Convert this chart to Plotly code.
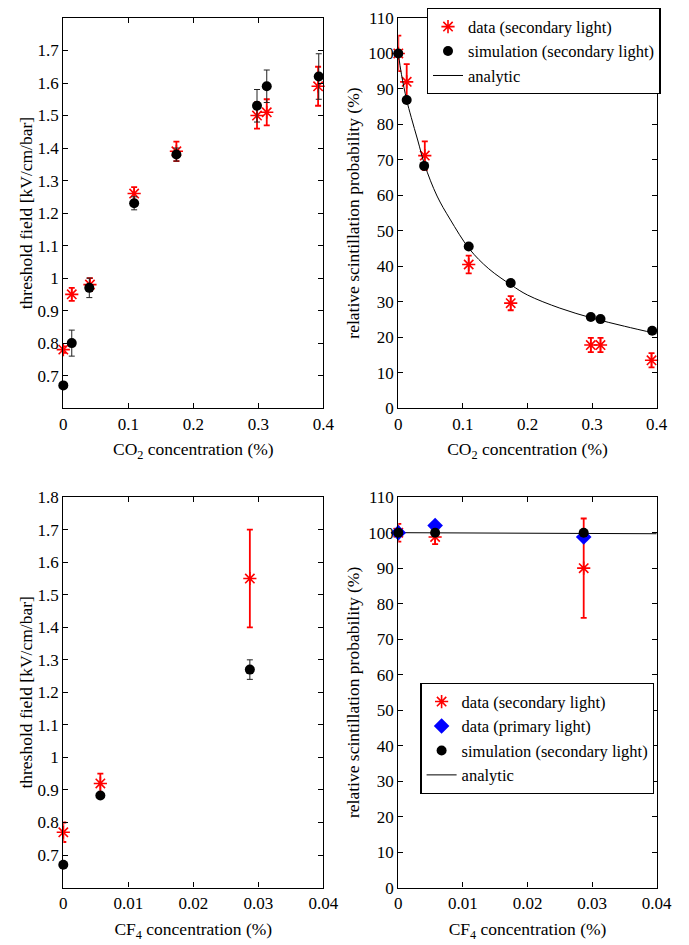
import plotly.graph_objects as go

# ---------------- data ----------------
# CO2 panels
co2_data_x = [0.0, 0.013, 0.041, 0.109, 0.174, 0.298, 0.313, 0.392]
co2_data_field = [0.78, 0.95, 0.98, 1.26, 1.39, 1.50, 1.51, 1.59]
co2_data_field_err = [0.01, 0.02, 0.02, 0.02, 0.03, 0.04, 0.04, 0.06]
co2_sim_x = [0.0, 0.013, 0.040, 0.109, 0.174, 0.298, 0.313, 0.393]
co2_sim_field = [0.67, 0.80, 0.97, 1.23, 1.38, 1.53, 1.59, 1.62]
co2_sim_field_err = [0.0, 0.04, 0.03, 0.02, 0.02, 0.05, 0.05, 0.07]
co2_data_prob = [100, 92, 71.2, 40.5, 29.6, 17.8, 17.8, 13.5]
co2_data_prob_err = [5, 5, 4, 2.5, 2, 2, 2, 2]
co2_sim_prob = [100, 86.9, 68.3, 45.6, 35.3, 25.7, 25.1, 21.8]
co2_analytic_x = [0.0, 0.005, 0.0128, 0.02, 0.03, 0.041, 0.06, 0.08, 0.11,
                  0.14, 0.175, 0.2, 0.25, 0.3, 0.35, 0.4]
co2_analytic_prob = [100, 94, 87, 82, 75.6, 68.5, 59.8, 53.3, 44.9,
                     39.3, 34.7, 31.9, 28.2, 25.4, 23.1, 21.0]

# CF4 panels
cf4_data_x = [0.0, 0.0057, 0.0287]
cf4_data_field = [0.77, 0.92, 1.55]
cf4_data_field_err = [0.03, 0.03, 0.15]
cf4_sim_x = [0.0, 0.0057, 0.0287]
cf4_sim_field = [0.67, 0.883, 1.27]
cf4_sim_field_err = [0.0, 0.0, 0.03]
cf4_data_prob = [100, 98.8, 90]
cf4_data_prob_err = [2.5, 2, 14]
cf4_primary_prob = [100, 102, 98.8]
cf4_sim_prob = [100, 100, 100]
cf4_analytic_x = [0.0, 0.01, 0.02, 0.03, 0.04]
cf4_analytic_prob = [100, 99.9, 99.85, 99.75, 99.7]

# tick labels
co2_xticks = [0, 0.1, 0.2, 0.3, 0.4]
co2_xticktext = ["0", "0.1", "0.2", "0.3", "0.4"]
cf4_xticks = [0, 0.01, 0.02, 0.03, 0.04]
cf4_xticktext = ["0", "0.01", "0.02", "0.03", "0.04"]
field_ticks_top = [0.7, 0.8, 0.9, 1.0, 1.1, 1.2, 1.3, 1.4, 1.5, 1.6, 1.7]
field_ticktext_top = ["0.7", "0.8", "0.9", "1", "1.1", "1.2", "1.3", "1.4", "1.5", "1.6", "1.7"]
field_ticks_bot = [0.7, 0.8, 0.9, 1.0, 1.1, 1.2, 1.3, 1.4, 1.5, 1.6, 1.7, 1.8]
field_ticktext_bot = ["0.7", "0.8", "0.9", "1", "1.1", "1.2", "1.3", "1.4", "1.5", "1.6", "1.7", "1.8"]
prob_ticks = [0, 10, 20, 30, 40, 50, 60, 70, 80, 90, 100, 110]
prob_ticktext = [str(v) for v in prob_ticks]

# ---------------- styling ----------------
FONT = "Liberation Serif, Times New Roman, serif"
RED = "#ff0000"
BLUE = "#0000ff"
BLACK = "#000000"

star = dict(symbol="asterisk-open", size=11, color=RED, line=dict(color=RED, width=1.6))
circle = dict(symbol="circle", size=10, color=BLACK, line=dict(color=BLACK, width=0))
diamond = dict(symbol="diamond", size=12, color=BLUE, line=dict(color=BLUE, width=0))

def red_err(arr):
    return dict(type="data", array=arr, color=RED, thickness=1.8, width=3)

def blk_err(arr):
    return dict(type="data", array=arr, color="#222222", thickness=1.0, width=3)

fig = go.Figure()

# ---- top-left: CO2 threshold field ----
fig.add_trace(go.Scatter(x=co2_data_x, y=co2_data_field, mode="markers", marker=star,
                         error_y=red_err(co2_data_field_err), showlegend=False, cliponaxis=False,
                         xaxis="x", yaxis="y"))
fig.add_trace(go.Scatter(x=co2_sim_x, y=co2_sim_field, mode="markers", marker=circle,
                         error_y=blk_err(co2_sim_field_err), showlegend=False, cliponaxis=False,
                         xaxis="x", yaxis="y"))

# ---- top-right: CO2 probability ----
fig.add_trace(go.Scatter(x=co2_data_x, y=co2_data_prob, mode="markers", marker=star,
                         error_y=red_err(co2_data_prob_err), name="data (secondary light)",
                         cliponaxis=False, xaxis="x2", yaxis="y2", legend="legend"))
fig.add_trace(go.Scatter(x=co2_sim_x, y=co2_sim_prob, mode="markers", marker=circle,
                         name="simulation (secondary light)", cliponaxis=False,
                         xaxis="x2", yaxis="y2", legend="legend"))
fig.add_trace(go.Scatter(x=co2_analytic_x, y=co2_analytic_prob, mode="lines",
                         line=dict(color=BLACK, width=1, shape="spline", smoothing=1.0),
                         name="analytic", xaxis="x2", yaxis="y2", legend="legend"))

# ---- bottom-left: CF4 threshold field ----
fig.add_trace(go.Scatter(x=cf4_data_x, y=cf4_data_field, mode="markers", marker=star,
                         error_y=red_err(cf4_data_field_err), showlegend=False, cliponaxis=False,
                         xaxis="x3", yaxis="y3"))
fig.add_trace(go.Scatter(x=cf4_sim_x, y=cf4_sim_field, mode="markers", marker=circle,
                         error_y=blk_err(cf4_sim_field_err), showlegend=False, cliponaxis=False,
                         xaxis="x3", yaxis="y3"))

# ---- bottom-right: CF4 probability ----
fig.add_trace(go.Scatter(x=cf4_analytic_x, y=cf4_analytic_prob, mode="lines",
                         line=dict(color=BLACK, width=1),
                         name="analytic", xaxis="x4", yaxis="y4", legend="legend2",
                         legendrank=4))
fig.add_trace(go.Scatter(x=cf4_data_x, y=cf4_data_prob, mode="markers", marker=star,
                         error_y=red_err(cf4_data_prob_err), name="data (secondary light)",
                         cliponaxis=False, xaxis="x4", yaxis="y4", legend="legend2", legendrank=1))
fig.add_trace(go.Scatter(x=cf4_data_x, y=cf4_primary_prob, mode="markers", marker=diamond,
                         name="data (primary light)", cliponaxis=False,
                         xaxis="x4", yaxis="y4", legend="legend2", legendrank=2))
fig.add_trace(go.Scatter(x=cf4_sim_x, y=cf4_sim_prob, mode="markers", marker=circle,
                         name="simulation (secondary light)", cliponaxis=False,
                         xaxis="x4", yaxis="y4", legend="legend2", legendrank=3))

W, H = 689, 945
OFF = 8  # page body margin in the browser

def px(xs):
    return (xs - OFF) / W

def py(ys):
    return 1 - (ys - OFF) / H

left_dom = [px(63.3), px(323.3)]
right_dom = [px(398.3), px(656.7)]
top_dom = [py(403.5), py(10)]
bot_dom = [py(887.0), py(493.3)]

def ax(domain, anchor, rng, tickvals, ticktext, title, standoff):
    return dict(domain=domain, anchor=anchor, range=rng, tickvals=tickvals, ticktext=ticktext,
                ticks="inside", ticklen=5, tickwidth=1, tickcolor=BLACK,
                showline=True, linecolor=BLACK, linewidth=1.3, mirror="ticks",
                showgrid=False, zeroline=False, automargin=False,
                tickfont=dict(family=FONT, size=17, color=BLACK),
                title=dict(text=title, font=dict(family=FONT, size=17.5, color=BLACK), standoff=standoff))

co2_title = "CO<sub>2</sub> concentration (%)"
cf4_title = "CF<sub>4</sub> concentration (%)"
field_title = "threshold field [kV/cm/bar]"
prob_title = "relative scintillation probability (%)"

legend_style = dict(font=dict(family=FONT, size=16.5, color=BLACK), bgcolor="white",
                    bordercolor=BLACK, borderwidth=1.3, xanchor="left", yanchor="top",
                    tracegroupgap=0, itemwidth=30)

fig.update_layout(
    width=W, height=H,
    margin=dict(l=0, r=0, t=0, b=0),
    paper_bgcolor="white", plot_bgcolor="white",
    font=dict(family=FONT, size=17.5, color=BLACK),
    xaxis=ax(left_dom, "y", [0, 0.4], co2_xticks, co2_xticktext, co2_title, 10),
    yaxis=ax(top_dom, "x", [0.6, 1.8], field_ticks_top, field_ticktext_top, field_title, 0),
    xaxis2=ax(right_dom, "y2", [0, 0.4], co2_xticks, co2_xticktext, co2_title, 10),
    yaxis2=ax(top_dom, "x2", [0, 110], prob_ticks, prob_ticktext, prob_title, 4),
    xaxis3=ax(left_dom, "y3", [0, 0.04], cf4_xticks, cf4_xticktext, cf4_title, 10),
    yaxis3=ax(bot_dom, "x3", [0.6, 1.8], field_ticks_bot, field_ticktext_bot, field_title, 0),
    xaxis4=ax(right_dom, "y4", [0, 0.04], cf4_xticks, cf4_xticktext, cf4_title, 10),
    yaxis4=ax(bot_dom, "x4", [0, 110], prob_ticks, prob_ticktext, prob_title, 4),
    legend=dict(x=px(426.7), y=py(0), **legend_style),
    legend2=dict(x=px(420.3), y=py(680.7), **legend_style),
)

fig.write_html("out.html")
